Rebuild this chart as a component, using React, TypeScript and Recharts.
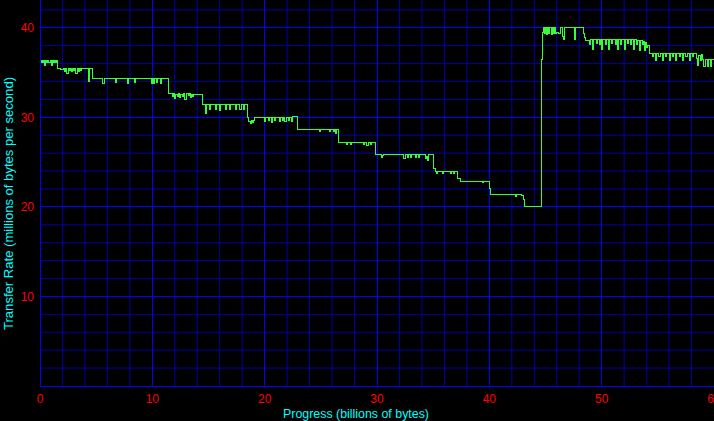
import React from 'react';
import { LineChart, Line, XAxis, YAxis, ReferenceLine, Label } from 'recharts';

// [progress (billions of bytes), transfer rate (millions of bytes/s)]
const startRun: [number, number][] = [
  [0, 36.1], [0.1, 36.4], [0.2, 36.1], [0.3, 36.4], [0.4, 35.8], [0.5, 36.4], [0.6, 36.1], [0.7, 36.4],
  [0.8, 36.1], [0.9, 36.4], [1.0, 35.8], [1.1, 36.4], [1.2, 36.1], [1.3, 36.4], [1.4, 36.1], [1.5, 36.4],
  [1.6, 35.5], [1.8, 35.3], [2.1, 35.5], [2.2, 35.1], [2.3, 35.5], [2.4, 34.9], [2.5, 35.5], [2.6, 35.2],
  [2.7, 35.5], [2.8, 35.1], [2.9, 35.5], [3.0, 35.2], [3.1, 35.5], [3.2, 34.9], [3.3, 35.5], [3.4, 35.1],
  [3.5, 35.5], [3.6, 35.2], [3.7, 35.5], [4.3, 34.0], [4.4, 35.5],
  [4.7, 34.3], [5.6, 33.8], [5.7, 34.3], [6.7, 33.9], [6.8, 34.3], [7.8, 33.8], [7.9, 34.3], [8.4, 33.9],
  [8.5, 34.3], [9.9, 33.8], [10.0, 34.3], [10.1, 33.8], [10.2, 34.3], [10.4, 33.9], [10.5, 34.3],
  [10.7, 33.8], [10.8, 34.3],
];

const descentRun: [number, number][] = [
  [11.4, 32.7], [11.8, 32.3], [11.9, 32.7], [12.0, 32.1], [12.1, 32.6], [12.2, 32.3], [12.3, 32.7],
  [12.4, 32.2], [12.5, 32.6], [12.7, 32.3], [12.8, 32.7], [12.9, 32.0], [13.0, 32.7], [13.2, 32.4],
  [13.3, 32.7], [13.4, 32.2], [13.5, 32.6], [13.6, 32.3], [13.7, 32.6],
  [14.5, 31.4], [14.7, 30.4], [14.8, 31.4], [15.1, 30.9], [15.2, 31.4], [15.6, 30.9], [15.7, 31.4],
  [16.0, 30.8], [16.1, 31.4], [16.5, 30.9], [16.6, 31.4], [16.9, 30.9], [17.0, 31.4], [17.4, 30.9],
  [17.5, 31.4], [17.8, 30.9], [17.9, 31.4], [18.1, 30.9], [18.2, 31.4],
  [18.5, 30.0], [18.6, 29.5], [18.7, 29.3], [18.8, 29.6], [18.9, 29.4], [19.0, 29.7], [19.1, 30.0],
  [20.0, 29.5], [20.1, 30.0], [20.3, 29.6], [20.4, 30.0], [20.6, 29.4], [20.7, 30.0], [20.9, 29.6],
  [21.0, 30.0], [21.3, 29.5], [21.4, 30.0], [21.6, 29.6], [21.7, 30.0], [21.8, 29.5], [21.9, 30.0],
  [22.1, 29.6], [22.2, 30.0], [22.4, 29.5], [22.5, 30.1],
  [22.9, 28.6], [24.9, 28.4], [25.0, 28.6], [25.8, 28.4], [25.9, 28.6], [26.1, 28.4], [26.2, 28.6],
  [26.3, 28.2], [26.4, 28.6],
  [26.6, 27.2], [27.3, 27.0], [27.4, 27.2], [27.6, 27.0], [27.7, 27.2], [28.8, 27.0], [28.9, 27.2],
  [29.1, 26.9], [29.2, 27.2], [29.4, 27.0], [29.5, 27.2],
  [29.9, 25.8], [30.4, 25.5], [30.5, 25.7], [30.6, 25.8], [32.4, 25.4], [32.5, 25.8], [32.7, 25.5],
  [32.8, 25.8], [33.0, 25.5], [33.1, 25.8], [33.4, 25.5], [33.5, 25.8], [33.7, 25.5], [33.8, 25.8],
  [34.3, 25.4], [34.4, 25.6], [34.5, 25.2], [34.6, 25.8],
  [35.0, 24.3], [35.2, 23.9], [35.3, 23.7], [35.4, 23.9], [35.8, 23.7], [35.9, 24.0], [36.5, 23.7],
  [36.6, 23.9], [36.8, 23.7], [36.9, 24.0],
  [37.2, 23.2], [37.4, 22.8], [39.4, 22.7], [39.5, 22.8],
  [40.0, 22.0], [40.1, 21.4], [42.3, 21.2], [42.4, 21.4], [42.9, 21.3], [43.0, 20.8], [43.1, 20.0],
];

const burstRun: [number, number][] = [
  [44.65, 36.5], [44.75, 39.5], [44.8, 40.0], [44.9, 39.4], [45.0, 40.0], [45.1, 39.3], [45.2, 40.0],
  [45.3, 39.4], [45.4, 40.0], [45.5, 39.3], [45.6, 40.0], [45.7, 39.4], [45.8, 40.0], [45.9, 39.4],
  [46.0, 39.5], [46.2, 39.4], [46.3, 40.0], [46.5, 39.0], [46.6, 38.7], [46.7, 40.0], [47.6, 38.7],
  [47.7, 40.0], [48.4, 39.4], [48.5, 38.9],
  [48.6, 38.6], [48.9, 38.1], [49.0, 38.7], [49.2, 37.6], [49.3, 38.7], [49.5, 38.2], [49.6, 38.7],
  [49.8, 38.1], [49.9, 38.7], [50.0, 37.6], [50.1, 38.7], [50.3, 38.1], [50.4, 38.7], [50.6, 37.6],
  [50.7, 38.7], [50.9, 38.2], [51.0, 38.7], [51.2, 38.1], [51.3, 38.7], [51.4, 37.6], [51.5, 38.7],
  [51.7, 38.1], [51.8, 38.7], [52.0, 37.6], [52.1, 38.7], [52.3, 38.2], [52.4, 38.7], [52.6, 38.1],
  [52.7, 38.7], [52.8, 37.6], [52.9, 38.7], [53.1, 38.1], [53.2, 38.6], [53.4, 37.5], [53.5, 38.6],
  [53.6, 38.1], [53.7, 38.5], [53.8, 37.5], [53.9, 38.4], [54.0, 37.8], [54.1, 38.0],
];

const tailRun: [number, number][] = [
  [54.3, 37.1], [54.5, 36.8], [54.6, 37.1], [54.8, 36.3], [54.9, 37.1], [55.1, 36.8], [55.2, 37.1],
  [55.4, 36.3], [55.5, 37.1], [55.7, 36.8], [55.8, 37.1], [56.0, 36.3], [56.1, 37.1], [56.3, 36.8],
  [56.4, 37.1], [56.6, 36.4], [56.7, 37.1], [56.9, 36.8], [57.0, 37.1], [57.2, 36.3], [57.3, 37.1],
  [57.5, 36.8], [57.6, 37.1], [57.8, 36.4], [57.9, 37.1], [58.1, 36.8], [58.2, 37.1], [58.4, 36.6],
  [58.5, 35.8], [58.6, 36.9], [58.8, 36.4], [58.9, 37.0],
  [59.0, 36.5], [59.1, 35.7], [59.2, 36.5], [59.4, 35.7], [59.5, 36.5], [59.7, 35.7], [59.8, 36.5],
  [60.0, 36.0],
];

const xTicks = [0, 10, 20, 30, 40, 50, 60];
const yTicks = [10, 20, 30, 40];
const xMinor = [2, 4, 6, 8, 12, 14, 16, 18, 22, 24, 26, 28, 32, 34, 36, 38, 42, 44, 46, 48, 52, 54, 56, 58];
const yMinor = [2, 4, 6, 8, 12, 14, 16, 18, 22, 24, 26, 28, 32, 34, 36, 38, 42];
const xMajor = [10, 20, 30, 40, 50];
const yMajor = [10, 20, 30, 40];

const chartData = [...startRun, ...descentRun, ...burstRun, ...tailRun].map(([progress, rate]) => ({
  progress,
  rate,
}));

const FONT = '"Liberation Sans", Arial, sans-serif';
const MINOR = '#0000a8';
const MAJOR = '#0000ff';

const XTitle = () => (
  <text x={356} y={417.5} textAnchor="middle" fill="#00ffff" fontSize={12} fontFamily={FONT}
    textLength={146} lengthAdjust="spacingAndGlyphs">
    Progress (billions of bytes)
  </text>
);

const YTitle = () => (
  <text transform="translate(12.5,203.5) rotate(-90)" textAnchor="middle" fill="#00ffff" fontSize={12}
    fontFamily={FONT} textLength={253} lengthAdjust="spacingAndGlyphs">
    Transfer Rate (millions of bytes per second)
  </text>
);

export default function App() {
  return (
    <div style={{ width: 714, height: 421, background: '#000', overflow: 'hidden' }}>
      <style>{'body{margin:0;overflow:hidden;background:#000}'}</style>
      <LineChart width={714} height={421} data={chartData} margin={{ top: 0, right: 0, bottom: 0, left: 0 }}>
        {xMinor.map((v) => (
          <ReferenceLine key={`xm${v}`} x={v} stroke={MINOR} />
        ))}
        {yMinor.map((v) => (
          <ReferenceLine key={`ym${v}`} y={v} stroke={MINOR} />
        ))}
        {xMajor.map((v) => (
          <ReferenceLine key={`xM${v}`} x={v} stroke={MAJOR} shapeRendering="crispEdges" />
        ))}
        {yMajor.map((v) => (
          <ReferenceLine key={`yM${v}`} y={v} stroke={MAJOR} shapeRendering="crispEdges" />
        ))}
        <XAxis
          type="number"
          dataKey="progress"
          domain={[0, 60]}
          ticks={xTicks}
          interval={0}
          height={35}
          tickLine={false}
          axisLine={{ stroke: MAJOR, shapeRendering: 'crispEdges' }}
          tick={{ fill: '#ff0000', fontSize: 12, fontFamily: FONT }}
          allowDataOverflow
        >
          <Label content={<XTitle />} />
        </XAxis>
        <YAxis
          type="number"
          domain={[0, 43.1]}
          ticks={yTicks}
          interval={0}
          width={40}
          tickSize={4}
          tickMargin={2}
          tickLine={false}
          axisLine={{ stroke: MAJOR, shapeRendering: 'crispEdges' }}
          tick={{ fill: '#ff0000', fontSize: 12, fontFamily: FONT }}
          allowDataOverflow
        >
          <Label content={<YTitle />} />
        </YAxis>
        <Line
          type="stepAfter"
          dataKey="rate"
          stroke="#33ff33"
          strokeWidth={1}
          dot={false}
          activeDot={false}
          shapeRendering="crispEdges"
          isAnimationActive={false}
        />
      </LineChart>
    </div>
  );
}
